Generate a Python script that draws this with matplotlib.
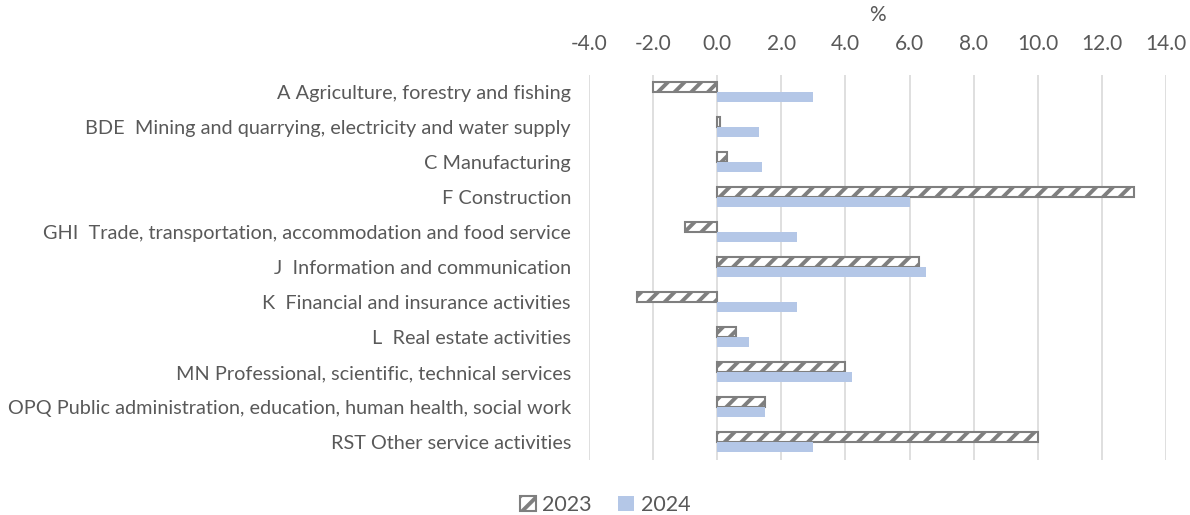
import matplotlib.pyplot as plt
import matplotlib as mpl
import numpy as np
from matplotlib.ticker import FuncFormatter

# data
categories = [
    "A Agriculture, forestry and fishing",
    "BDE  Mining and quarrying, electricity and water supply",
    "C Manufacturing",
    "F Construction",
    "GHI  Trade, transportation, accommodation and food service",
    "J  Information and communication",
    "K  Financial and insurance activities",
    "L  Real estate activities",
    "MN Professional, scientific, technical services",
    "OPQ Public administration, education, human health, social work",
    "RST Other service activities",
]
vals_2023 = [-2.0, 0.1, 0.3, 13.0, -1.0, 6.3, -2.5, 0.6, 4.0, 1.5, 10.0]
vals_2024 = [3.0, 1.3, 1.4, 6.0, 2.5, 6.5, 2.5, 1.0, 4.2, 1.5, 3.0]
x_ticks = np.arange(-4, 15, 2)

txt = "#595959"
blue = "#B4C7E7"
hatch_gray = "#7F7F7F"

plt.rcParams['font.family'] = ['Lato', 'DejaVu Sans']
plt.rcParams['hatch.linewidth'] = 2.8
plt.rcParams['hatch.color'] = hatch_gray

fig = plt.figure(figsize=(11.9, 5.15), dpi=100)
ax = fig.add_axes([589/1190, 1 - 459.5/515, (1166-589)/1190, (459.5-74.5)/515])

y = np.arange(len(categories))
h = 0.28
ax.barh(y - h/2, vals_2023, height=h, color="white", edgecolor=hatch_gray,
        hatch="//", linewidth=1.5, label="2023", zorder=3)
ax.barh(y + h/2, vals_2024, height=h, color=blue, label="2024", zorder=3)

ax.set_ylim(len(categories) - 0.5, -0.5)
ax.set_xlim(-4, 14)
ax.set_xticks(x_ticks)
ax.xaxis.set_major_formatter(FuncFormatter(lambda v, p: f"{v:.1f}".replace("\u2212", "-")))
ax.xaxis.tick_top()
ax.xaxis.set_label_position("top")
ax.set_xlabel("%", fontsize=15, color=txt, labelpad=9)
ax.tick_params(axis="x", length=0, pad=15, labelsize=15, labelcolor=txt)
ax.set_yticks(y)
ax.set_yticklabels(categories)
ax.tick_params(axis="y", length=0, pad=13, labelsize=14.3, labelcolor=txt)
ax.grid(axis="x", color="#D9D9D9", linewidth=1.2, zorder=0)
for s in ax.spines.values():
    s.set_visible(False)

fig.legend(loc="center", bbox_to_anchor=(605/1190, 1 - 505/515), ncol=2, frameon=False,
           fontsize=15.5, labelcolor=txt, handlelength=0.75, handleheight=0.75,
           handletextpad=0.3, columnspacing=1.2)

fig.savefig("out.png", dpi=100)
